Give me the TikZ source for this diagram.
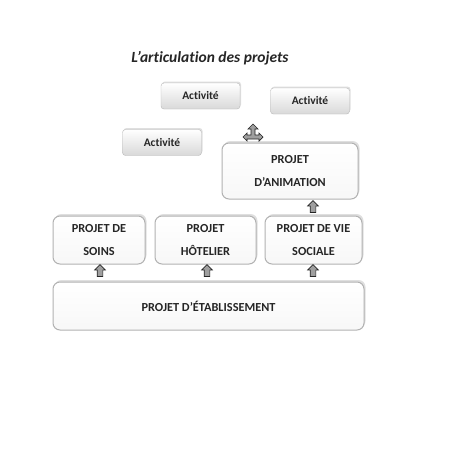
\documentclass[tikz,border=0pt]{standalone}
\usepackage{fontspec}
\setmainfont[Ligatures = NoCommon]{Carlito}
\usepackage{tikz}
\usetikzlibrary{shapes, arrows, shadows}
\usetikzlibrary{positioning}
\tikzstyle{activite} = [rectangle, rounded corners = 3, minimum width = 79,
  minimum height = 26, draw = gray!55, top color = white, bottom color = gray!30,
  drop shadow = {opacity = 0.25, shadow xshift = 1, shadow yshift = -1.5},
  font = \bfseries\fontsize{11.5}{13}\selectfont, text = black!85, text centered]
\tikzstyle{projet} = [
  rectangle, rounded corners = 7,
  draw = gray!60, line width = 1, top color = white, bottom color = gray!6,
  drop shadow = {opacity = 0.25, shadow xshift = 1.5, shadow yshift = -2},
  font = \bfseries\fontsize{12.3}{23}\selectfont, text = black!85,
  align = center, inner sep = 0
]
\tikzstyle{uparrow} = [single arrow, shape border rotate = 90, draw = black!85,
  fill = gray!75, minimum height = 12, minimum width = 10, inner sep = 2.5,
  single arrow head extend = 2.5, line width = 0.7]

\begin{document}
\begin{tikzpicture}[x = 1pt, y = -1pt]
    \useasboundingbox [fill = white] (0, 0) rectangle (450, 450);
    % title
    \node [font = \bfseries\itshape\fontsize{15.5}{18}\selectfont, text = black!85]
    (title) at (210, 58) {L’articulation des projets};
    % activites
    \node [activite] (act-1) at (200.5, 96) {Activité};
    \node [activite] (act-2) at (310, 101) {Activité};
    \node [activite] (act-3) at (162, 142.5) {Activité};
    % projet d'animation
    \node [projet, minimum width = 136, minimum height = 56] (animation) at (290, 171)
    {PROJET\\D’ANIMATION};
    % 3 projets
    \node [projet, minimum width = 92, minimum height = 48] (soins) at (99, 240)
    {PROJET DE\\SOINS};
    \node [projet, minimum width = 101, minimum height = 48] (hotelier) at (205.5, 240)
    {PROJET\\HÔTELIER};
    \node [projet, minimum width = 97, minimum height = 48] (vie-sociale) at (313.5, 240)
    {PROJET DE VIE\\SOCIALE};
    % projet d'etablissement
    \node [projet, minimum width = 311, minimum height = 48] (etablissement)
    at (208.5, 306) {PROJET D’ÉTABLISSEMENT};

    % arrows
    \node [uparrow] (up-soins) at (100, 272) {};
    \node [uparrow] (up-hotelier) at (207, 272) {};
    \node [uparrow] (up-vie) at (313, 272) {};
    \node [uparrow] (up-animation) at (313, 208) {};
    \coordinate (hub) at (253, 133);
    \draw [draw = black!85, fill = gray!75, line width = 0.7] (hub) ++(-10, 4)
    -- ++(4, -4) -- ++(0, 2) -- ++(4, 0) -- ++(0, -6) -- ++(-3, 0) -- ++(5, -5)
    -- ++(5, 5) -- ++(-3, 0) -- ++(0, 6) -- ++(4, 0) -- ++(0, -2) -- ++(4, 4)
    -- ++(-4, 4) -- ++(0, -2) -- ++(-12, 0) -- ++(0, 2) -- cycle;
  \end{tikzpicture}
\end{document}
